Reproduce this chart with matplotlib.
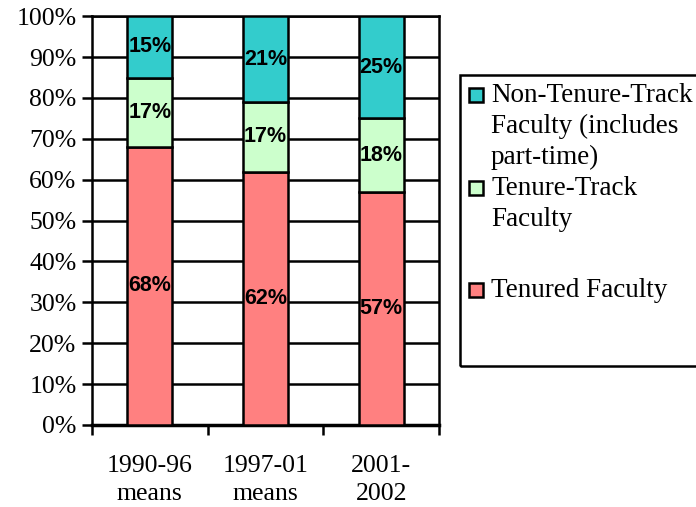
import numpy as np
import matplotlib.pyplot as plt
from matplotlib.patches import Rectangle

## values (percent of faculty)
periods = ["1990-96\nmeans", "1997-01\nmeans", "2001-\n2002"]
tenured = [68, 62, 57]
tenure_track = [17, 17, 18]
non_tenure = [15, 21, 25]
y_ticks = [0, 10, 20, 30, 40, 50, 60, 70, 80, 90, 100]

series_names = ["Tenured Faculty", "Tenure-Track\nFaculty",
                "Non-Tenure-Track\nFaculty (includes\npart-time)"]
colors = ["#FF8080", "#CCFFCC", "#33CCCC"]

serif = "Liberation Serif"

fig = plt.figure(figsize=(6.96, 5.07), dpi=100)
ax = fig.add_axes([0.132, 0.162, 0.499, 0.806])

x = np.arange(len(periods))
bottom = np.zeros(len(periods))
for vals, col in zip([tenured, tenure_track, non_tenure], colors):
    bars = ax.bar(x, vals, width=0.39, bottom=bottom, color=col,
                  edgecolor="black", linewidth=1.8, zorder=3)
    for b, v in zip(bars, vals):
        ax.text(b.get_x() + b.get_width() / 2, b.get_y() + v / 2, f"{v}%",
                ha="center", va="center", fontsize=15.5, fontweight="bold",
                family="Liberation Sans", zorder=4)
    bottom += np.array(vals)

ax.set_xlim(-0.5, 2.5)
ax.set_ylim(0, 100)
ax.set_yticks(y_ticks)
ax.set_yticklabels([f"{t}%" for t in y_ticks], family=serif, fontsize=18.5)
ax.yaxis.grid(True, color="black", linewidth=1.8, zorder=1)
ax.set_axisbelow(True)

ax.set_xticks(x)
ax.set_xticklabels(periods, family=serif, fontsize=18.5, linespacing=1.35)
ax.tick_params(axis="x", which="major", length=0, pad=22)
ax.set_xticks([-0.5, 0.5, 1.5, 2.5], minor=True)
ax.tick_params(axis="x", which="minor", length=7, width=1.8, direction="out")
ax.tick_params(axis="y", length=7, width=1.8, direction="out", pad=4)

for side in ["left", "right", "bottom", "top"]:
    ax.spines[side].set_linewidth(1.8)
ax.spines["bottom"].set_linewidth(2.5)

## legend box drawn by hand so it can run off the right edge like the original
W, H = 696.0, 507.0
fig.patches.append(Rectangle((460 / W, 1 - 366 / H), 260 / W, 291 / H,
                             transform=fig.transFigure, fill=False,
                             edgecolor="black", linewidth=1.8))
legend_rows = [(2, 95), (1, 188), (0, 290)]
for idx, ymid in legend_rows:
    fig.patches.append(Rectangle((469 / W, 1 - (ymid + 7) / H), 14 / W, 14 / H,
                                 transform=fig.transFigure, facecolor=colors[idx],
                                 edgecolor="black", linewidth=1.8))
    fig.text(491 / W, 1 - (ymid - 12) / H, series_names[idx], family=serif,
             fontsize=19.5, va="top", ha="left", linespacing=1.3)

fig.savefig("out.png", dpi=100)
